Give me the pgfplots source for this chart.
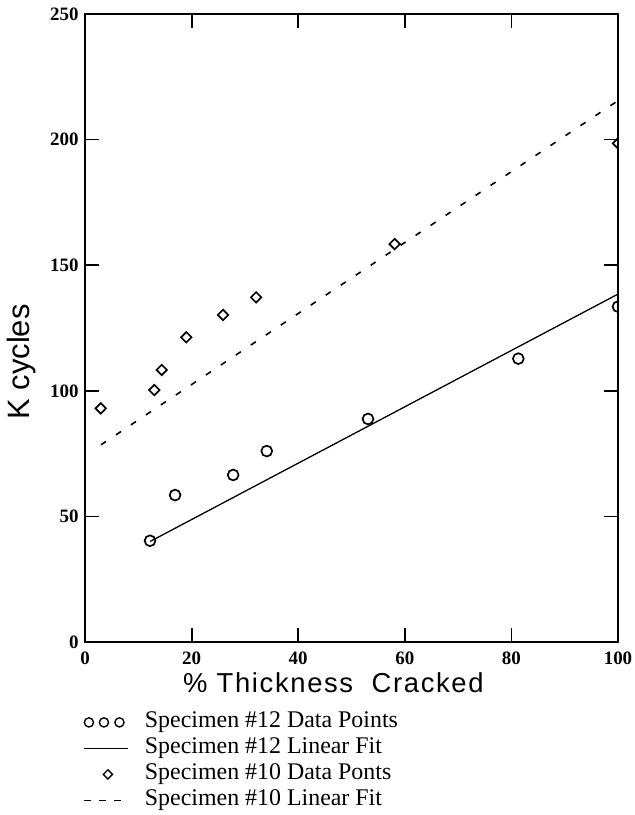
\documentclass[border=0pt]{standalone}
\usepackage{fontspec}
\setmainfont{Liberation Serif}
\newfontfamily\arialf{Liberation Sans}
\newfontfamily\arialx[LetterSpace=6]{Liberation Sans}
\usepackage{pgfplots}
\pgfplotsset{compat=1.18}
\begin{document}
\begin{tikzpicture}
\begin{axis}[
  scale only axis,
  width=533bp, height=628bp,
  xmin=0, xmax=100, ymin=0, ymax=250,
  xtick={0,20,40,60,80,100},
  ytick={0,50,100,150,200,250},
  tick align=inside, tick pos=both,
  major tick length=14bp,
  every tick/.style={black, line width=1.8bp},
  axis line style={line width=2.2bp},
  /pgf/number format/assume math mode=true,
  ticklabel style={font=\fontsize{19}{19}\selectfont\bfseries},
  xticklabel style={yshift=-6bp},
  yticklabel style={xshift=-3bp},
  xlabel={\arialx\fontsize{27.5}{27.5}\selectfont \%~Thickness\ \ Cracked},
  xlabel style={at={(rel axis cs:0.466,-0.0653)}, anchor=center},
  ylabel={\arialf\fontsize{31}{31}\selectfont K cycles},
  ylabel style={at={(rel axis cs:-0.1182,0.446)}, anchor=center},
  clip marker paths=true,
  legend cell align=left,
  legend style={draw=none, fill=none, inner sep=0pt,
    at={(rel axis cs:-0.00375,-0.111)}, anchor=north west,
    font=\fontsize{24}{24}\selectfont,
    row sep=5bp,
    nodes={inner sep=0pt, text height=16bp, text depth=5bp}},
]
\addplot[only marks, mark=o, mark size=5.4bp, mark options={line width=1.7bp}, black,
  legend image code/.code={
    \path[draw=none,fill=none] (0bp,-5bp) rectangle (61bp,5bp);
    \draw[line width=1.4bp] (5bp,0bp) circle[radius=4.6bp] (20bp,0bp) circle[radius=4.6bp] (35.5bp,0bp) circle[radius=4.6bp];}]
  coordinates {(12.2,40.3) (16.9,58.5) (27.8,66.5) (34.1,76.0) (53.1,88.8) (81.3,112.8) (100,133.5)};
\addlegendentry{Specimen \#12 Data Points}
\addplot[black, line width=1.3bp,
  legend image code/.code={
    \path[draw=none,fill=none] (0bp,-5bp) rectangle (61bp,5bp);
    \draw[line width=1.3bp] (0bp,0bp) -- (44bp,0bp);}]
  coordinates {(12.2,40.0) (100,138.5)};
\addlegendentry{Specimen \#12 Linear Fit}
\addplot[only marks, mark=square, mark size=3.7bp, mark options={rotate=45, line width=1.7bp}, black,
  legend image code/.code={
    \path[draw=none,fill=none] (0bp,-5bp) rectangle (61bp,5bp);
    \draw[line width=1.4bp] (24bp,4.6bp) -- (28.6bp,0bp) -- (24bp,-4.6bp) -- (19.4bp,0bp) -- cycle;}]
  coordinates {(2.95,93.0) (13.0,100.3) (14.4,108.3) (19.0,121.3) (25.9,130.2) (32.1,137.2) (58.1,158.4) (100,198.5)};
\addlegendentry{Specimen \#10 Data Ponts}
\addplot[black, line width=1.6bp, dash pattern=on 6bp off 12bp,
  legend image code/.code={
    \path[draw=none,fill=none] (0bp,-5bp) rectangle (61bp,5bp);
    \draw[line width=1.5bp, dash pattern=on 7bp off 8bp] (0bp,0bp) -- (37bp,0bp);}]
  coordinates {(3.0,78.5) (100,215.5)};
\addlegendentry{Specimen \#10 Linear Fit}
\coordinate (bl) at (rel axis cs:0,0);
\coordinate (tr) at (rel axis cs:1,1);
\end{axis}
\pgfresetboundingbox
\path ([shift={(-85bp,-173bp)}]bl) rectangle ([shift={(17bp,14bp)}]tr);
\end{tikzpicture}
\end{document}
